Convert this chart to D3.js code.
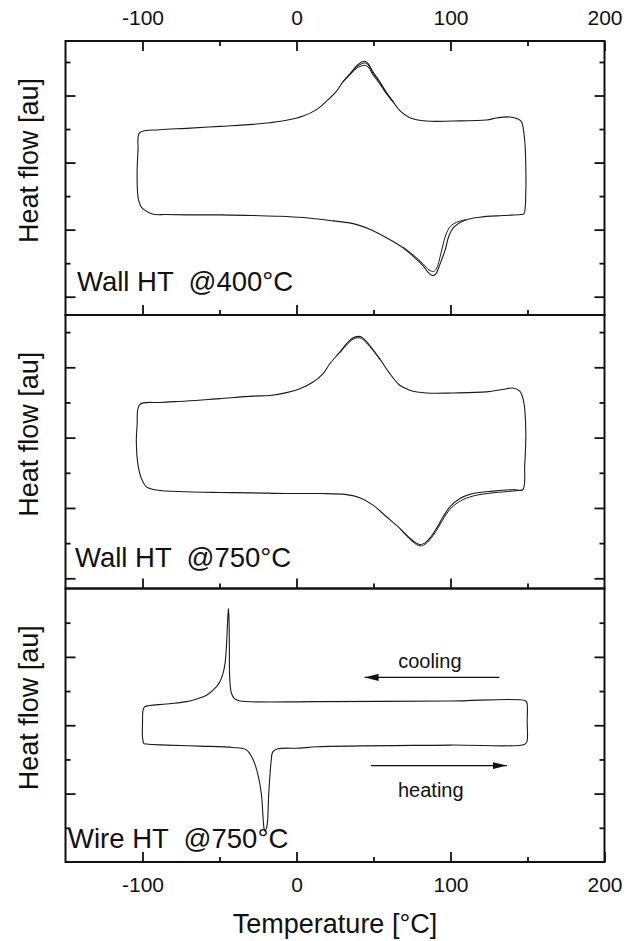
<!DOCTYPE html>
<html>
<head>
<meta charset="utf-8">
<script src="https://cdn.jsdelivr.net/npm/d3@7"></script>
<style>
  html, body { margin: 0; padding: 0; background: #fff; }
  svg { display: block; }
  text { font-family: "Liberation Sans", Arial, Helvetica, sans-serif; fill: #111; }
</style>
</head>
<body>
<svg id="chart" width="637" height="941"></svg>
<script>
// ---- Temperature axis ----
const xTickLabels = [-100, 0, 100, 200];
const xMajorTicks = [-100, 0, 100];
const xMinorTicks = [-50, 50, 150];
const panelLabels = ["Wall HT  @400°C", "Wall HT  @750°C", "Wire HT  @750°C"];

// ---- DSC traces: [temperature °C, heat flow au] ----
// Wall HT @400°C
const wall400Heating = [
  [-99.5, 3.61], [-93.1, 3.46], [-85.0, 3.45], [-71.4, 3.44], [-49.8, 3.44], [-28.2, 3.42],
  [-10.8, 3.40], [4.3, 3.36], [23.8, 3.26], [36.8, 3.18], [47.6, 3.01], [58.4, 2.76],
  [69.2, 2.46], [75.7, 2.21], [82.2, 1.92], [85.8, 1.71], [88.2, 1.63], [90.5, 1.68],
  [93.0, 1.95], [96.5, 2.39], [99.0, 2.82], [102.0, 3.07], [108.2, 3.26], [119.0, 3.37],
  [134.2, 3.42], [145.5, 3.45], [147.6, 3.47], [148.9, 4.15], [148.9, 4.85], [148.2, 5.65],
  [146.1, 6.22]
];
const wall400Cooling = [
  [143.9, 6.30], [138.5, 6.36], [130.0, 6.33], [123.4, 6.27], [101.7, 6.24], [84.4, 6.24],
  [73.6, 6.34], [67.1, 6.55], [62.7, 6.82], [58.0, 7.12], [54.0, 7.42], [49.7, 7.70],
  [46.5, 7.95], [44.4, 8.02], [42.0, 7.99], [39.0, 7.88], [34.8, 7.65], [30.0, 7.40],
  [26.0, 7.13], [19.5, 6.83], [13.0, 6.58], [4.3, 6.39], [-6.5, 6.26], [-17.3, 6.19],
  [-28.2, 6.14], [-49.8, 6.08], [-71.4, 6.02], [-88.8, 5.98], [-101.8, 5.89], [-102.9, 5.36],
  [-103.5, 4.65], [-102.9, 3.96], [-101.3, 3.71]
];
const wall400CoolingRun2 = [
  [30.0, 7.40], [34.8, 7.64], [39.0, 7.85], [42.0, 7.94], [44.4, 7.97], [46.5, 7.91],
  [49.7, 7.66], [54.0, 7.39], [58.0, 7.10], [62.7, 6.81]
];
const wall400CoolingRun3 = [
  [30.0, 7.39], [34.8, 7.62], [39.0, 7.81], [42.0, 7.88], [44.4, 7.90], [46.5, 7.85],
  [49.7, 7.61], [54.0, 7.35], [58.0, 7.07], [62.7, 6.80]
];
const wall400HeatingRun2 = [
  [69.2, 2.48], [75.7, 2.25], [82.2, 1.98], [86.0, 1.80], [89.0, 1.75], [91.0, 1.85],
  [94.3, 2.39], [97.0, 2.85], [100.0, 3.10], [104.0, 3.22], [110.0, 3.30]
];

// Wall HT @750°C
const wall750Heating = [
  [-97.4, 3.60], [-90.9, 3.51], [-71.4, 3.46], [-49.8, 3.44], [-28.2, 3.43], [-6.5, 3.41],
  [15.2, 3.41], [32.5, 3.38], [41.1, 3.29], [49.7, 3.08], [58.4, 2.75], [67.1, 2.42],
  [73.6, 2.14], [77.9, 2.00], [80.1, 1.96], [83.3, 2.00], [86.6, 2.14], [90.9, 2.42],
  [95.2, 2.75], [99.6, 3.03], [106.1, 3.27], [114.7, 3.41], [127.6, 3.48], [140.6, 3.52],
  [146.9, 3.52], [148.2, 4.22], [148.9, 5.16], [147.6, 6.01], [145.0, 6.32]
];
const wall750Cooling = [
  [140.6, 6.41], [134.0, 6.37], [123.4, 6.30], [101.7, 6.27], [84.4, 6.27], [73.6, 6.35],
  [67.1, 6.49], [60.6, 6.82], [54.1, 7.24], [47.6, 7.62], [42.2, 7.86], [40.0, 7.88],
  [36.8, 7.84], [32.5, 7.67], [28.1, 7.43], [21.6, 7.10], [17.3, 6.82], [10.8, 6.58],
  [2.2, 6.39], [-6.5, 6.28], [-17.3, 6.20], [-28.2, 6.18], [-49.8, 6.11], [-71.4, 6.04],
  [-88.8, 6.00], [-101.8, 5.94], [-103.5, 5.35], [-104.0, 4.88], [-102.9, 4.22], [-100.7, 3.84]
];
const wall750CoolingRun2 = [
  [28.1, 7.41], [32.5, 7.63], [36.8, 7.80], [40.0, 7.84], [42.2, 7.82], [47.6, 7.59], [54.1, 7.22]
];
const wall750HeatingRun2 = [
  [67.1, 2.41], [73.6, 2.11], [77.9, 1.96], [80.3, 1.92], [83.3, 1.96], [86.6, 2.10],
  [90.9, 2.36], [95.2, 2.68], [99.6, 2.96], [106.1, 3.19], [114.7, 3.34], [127.6, 3.43],
  [140.6, 3.48], [146.9, 3.51]
];

// Wire HT @750°C
const wire750Heating = [
  [-99.2, 3.47], [-97.4, 3.45], [-84.4, 3.42], [-62.8, 3.39], [-41.2, 3.35], [-32.5, 3.28],
  [-29.0, 3.07], [-25.8, 2.69], [-22.9, 2.02], [-21.2, 1.02], [-20.6, 0.91], [-19.3, 1.02],
  [-18.0, 2.02], [-16.4, 2.98], [-15.4, 3.22], [-12.1, 3.31], [2.1, 3.33], [13.2, 3.37],
  [99.5, 3.42], [148.0, 3.44], [149.6, 3.52], [149.8, 4.10], [149.6, 4.66]
];
const wire750Cooling = [
  [148.5, 4.72], [99.5, 4.71], [13.2, 4.69], [-36.8, 4.71], [-40.1, 4.77], [-42.2, 4.93],
  [-43.3, 5.32], [-43.6, 6.30], [-43.8, 7.08], [-44.2, 7.42], [-44.8, 6.98], [-45.5, 6.30],
  [-46.4, 5.81], [-47.7, 5.52], [-49.8, 5.27], [-51.9, 5.13], [-58.4, 4.88], [-64.9, 4.77],
  [-71.4, 4.69], [-84.4, 4.62], [-98.5, 4.54], [-99.6, 4.45], [-100.0, 4.06], [-100.0, 3.66]
];

// Direction annotations in the wire panel: [from T, to T, heat flow]
const coolingArrow = [131.8, 44.2, 5.40];
const heatingArrow = [48.4, 136.6, 2.82];
const coolingText = [86.6, 5.66];
const heatingText = [87.2, 1.91];

// ---- layout ----
const plotLeft = 65.5, plotRight = 604.5;
const panelEdges = [41, 315, 588.5, 862];
const svg = d3.select("#chart");
const x = d3.scaleLinear().domain([-150, 200]).range([plotLeft, plotRight]);

const panels = [
  { label: panelLabels[0], yDomain: [0.454, 8.626], yMajor: [1, 3, 5, 7], yMinor: [2, 4, 6, 8],
    loop: wall400Heating.concat(wall400Cooling),
    runs: [wall400CoolingRun2, wall400CoolingRun3, wall400HeatingRun2],
    labelX: 77, labelUp: 24 },
  { label: panelLabels[1], yDomain: [0.71, 8.487], yMajor: [1, 3, 5, 7], yMinor: [2, 4, 6, 8],
    loop: wall750Heating.concat(wall750Cooling),
    runs: [wall750CoolingRun2, wall750HeatingRun2],
    labelX: 75, labelUp: 22 },
  { label: panelLabels[2], yDomain: [0, 8], yMajor: [2, 4, 6], yMinor: [1, 3, 5, 7],
    loop: wire750Heating.concat(wire750Cooling),
    runs: [],
    labelX: 68, labelUp: 14 }
];

function styleAxis(g) {
  g.select(".domain").remove();
  g.selectAll(".tick line").attr("stroke", "#111").attr("stroke-width", 1.8);
  g.selectAll(".tick text").attr("font-size", 21).attr("fill", "#111")
    .attr("font-family", "Liberation Sans, Arial, sans-serif");
}

svg.append("defs").append("marker")
  .attr("id", "arrowhead").attr("viewBox", "0 0 14 7")
  .attr("refX", 14).attr("refY", 3.5)
  .attr("markerWidth", 14).attr("markerHeight", 7)
  .attr("markerUnits", "userSpaceOnUse").attr("orient", "auto")
  .append("path").attr("d", "M0,0 L14,3.5 L0,7 Z").attr("fill", "#111");

panels.forEach((p, i) => {
  const top = panelEdges[i], bottom = panelEdges[i + 1];
  const y = d3.scaleLinear().domain(p.yDomain).range([bottom, top]);
  const g = svg.append("g");

  const loopLine = d3.line().x(d => x(d[0])).y(d => y(d[1]))
    .curve(d3.curveCatmullRomClosed.alpha(0.5));
  const runLine = d3.line().x(d => x(d[0])).y(d => y(d[1]))
    .curve(d3.curveCatmullRom.alpha(0.5));

  g.append("path").datum(p.loop).attr("d", loopLine)
    .attr("fill", "none").attr("stroke", "#1a1a1a").attr("stroke-width", 1.1)
    .attr("stroke-linejoin", "round");
  p.runs.forEach(r => {
    g.append("path").datum(r).attr("d", runLine)
      .attr("fill", "none").attr("stroke", "#1a1a1a").attr("stroke-width", 1.0);
  });

  // inward ticks on the left and right edges
  g.append("g").attr("transform", `translate(${plotLeft},0)`)
    .call(d3.axisLeft(y).tickValues(p.yMajor).tickSize(-10).tickFormat("")).call(styleAxis);
  g.append("g").attr("transform", `translate(${plotLeft},0)`)
    .call(d3.axisLeft(y).tickValues(p.yMinor).tickSize(-5).tickFormat("")).call(styleAxis);
  g.append("g").attr("transform", `translate(${plotRight},0)`)
    .call(d3.axisRight(y).tickValues(p.yMajor).tickSize(-10).tickFormat("")).call(styleAxis);
  g.append("g").attr("transform", `translate(${plotRight},0)`)
    .call(d3.axisRight(y).tickValues(p.yMinor).tickSize(-5).tickFormat("")).call(styleAxis);

  // inward temperature ticks along the lower edge
  const isLast = i === panels.length - 1;
  g.append("g").attr("transform", `translate(0,${bottom})`)
    .call(d3.axisBottom(x).tickValues(isLast ? xTickLabels : xMajorTicks).tickSize(-10)
      .tickPadding(15).tickFormat(isLast ? (d => String(d)) : ""))
    .call(styleAxis);
  g.append("g").attr("transform", `translate(0,${bottom})`)
    .call(d3.axisBottom(x).tickValues(xMinorTicks).tickSize(-5).tickFormat("")).call(styleAxis);

  if (i === 0) {
    g.append("g").attr("transform", `translate(0,${top})`)
      .call(d3.axisTop(x).tickValues(xTickLabels).tickSize(-10).tickPadding(16)
        .tickFormat(d => String(d)))
      .call(styleAxis);
    g.append("g").attr("transform", `translate(0,${top})`)
      .call(d3.axisTop(x).tickValues(xMinorTicks).tickSize(-5).tickFormat("")).call(styleAxis);
  }

  // frame
  g.append("rect").attr("x", plotLeft).attr("y", top)
    .attr("width", plotRight - plotLeft).attr("height", bottom - top)
    .attr("fill", "none").attr("stroke", "#111").attr("stroke-width", 2);

  // y label
  g.append("text")
    .attr("transform", `translate(37.5,${(top + bottom) / 2 - 17.5}) rotate(-90)`)
    .attr("text-anchor", "middle").attr("font-size", 27)
    .text("Heat flow [au]");

  // sample label
  g.append("text").attr("x", p.labelX).attr("y", bottom - p.labelUp)
    .attr("font-size", 27.5).style("white-space", "pre")
    .text(p.label);

  if (isLast) {
    const line = (a) => g.append("line")
      .attr("x1", x(a[0])).attr("x2", x(a[1]))
      .attr("y1", y(a[2])).attr("y2", y(a[2]))
      .attr("stroke", "#111").attr("stroke-width", 1.3)
      .attr("marker-end", "url(#arrowhead)");
    line(coolingArrow);
    line(heatingArrow);
    g.append("text").attr("x", x(coolingText[0])).attr("y", y(coolingText[1]))
      .attr("text-anchor", "middle").attr("font-size", 20).text("cooling");
    g.append("text").attr("x", x(heatingText[0])).attr("y", y(heatingText[1]))
      .attr("text-anchor", "middle").attr("font-size", 20).text("heating");
  }
});

// x label
svg.append("text").attr("x", (plotLeft + plotRight) / 2).attr("y", 933)
  .attr("text-anchor", "middle").attr("font-size", 27)
  .text("Temperature [°C]");
</script>
</body>
</html>
